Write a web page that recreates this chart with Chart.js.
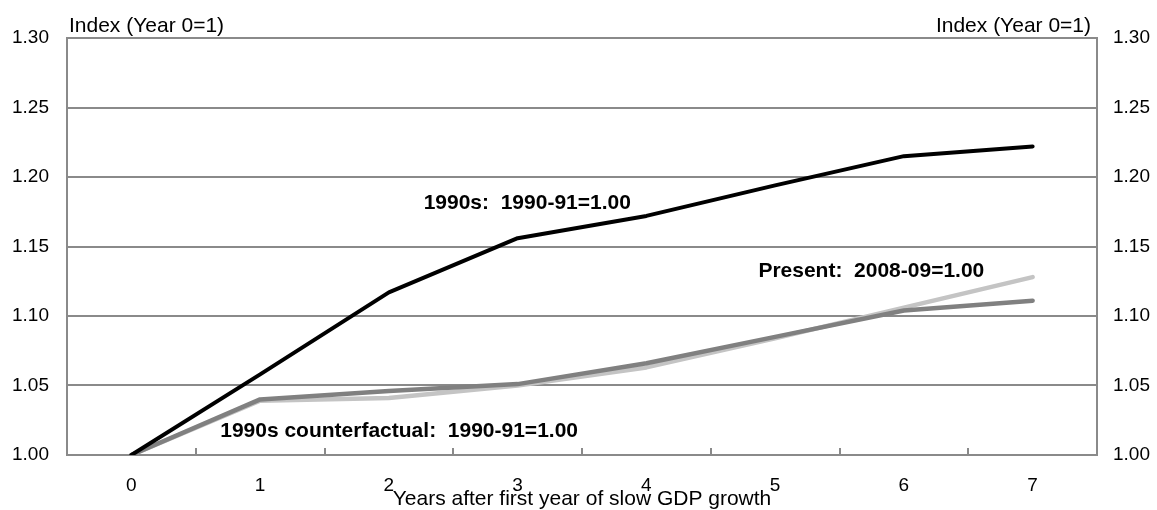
<!DOCTYPE html>
<html>
<head>
<meta charset="utf-8">
<script src="https://cdn.jsdelivr.net/npm/chart.js@4.4.1/dist/chart.umd.min.js"></script>
<style>
  html, body { margin: 0; padding: 0; background: #fff; }
  #wrap { width: 1157px; height: 510px; position: relative; }
</style>
</head>
<body>
<div id="wrap"><canvas id="chart" width="1157" height="510"></canvas></div>
<script>
// years after first year of slow GDP growth
const years = ['0', '1', '2', '3', '4', '5', '6', '7'];

// index, year 0 = 1
const nineties = [1.000, 1.058, 1.117, 1.156, 1.172, 1.194, 1.215, 1.222];
const counterfactual = [1.000, 1.040, 1.046, 1.051, 1.066, 1.085, 1.104, 1.111];
const present = [1.000, 1.039, 1.041, 1.050, 1.063, 1.084, 1.106, 1.128];

const yTicks = [1.00, 1.05, 1.10, 1.15, 1.20, 1.25, 1.30];

// text labels placed in data space: [text, x (category index), y (index value)]
const seriesLabels = [
    ['1990s:  1990-91=1.00', 2.27, 1.181],
    ['Present:  2008-09=1.00', 4.87, 1.132],
    ['1990s counterfactual:  1990-91=1.00', 0.69, 1.017]
];

const axisColor = '#8a8a8a';
const fontFamily = '"Liberation Sans", Arial, sans-serif';

Chart.defaults.font.family = fontFamily;
Chart.defaults.font.size = 19;
Chart.defaults.color = '#000';

const labelPlugin = {
    id: 'labelPlugin',
    afterDraw(chart) {
        const ctx = chart.ctx;
        const area = chart.chartArea;
        const x = chart.scales.x;
        const y = chart.scales.y;
        ctx.save();
        ctx.fillStyle = '#000';
        ctx.font = '21px ' + fontFamily;
        ctx.textBaseline = 'alphabetic';
        ctx.textAlign = 'left';
        ctx.fillText('Index (Year 0=1)', area.left + 2, area.top - 6);
        ctx.textAlign = 'right';
        ctx.fillText('Index (Year 0=1)', area.right - 6, area.top - 6);

        ctx.font = 'bold 21px ' + fontFamily;
        ctx.textAlign = 'left';
        ctx.textBaseline = 'middle';
        seriesLabels.forEach(l => {
            ctx.fillText(l[0], x.getPixelForValue(l[1]), y.getPixelForValue(l[2]));
        });
        ctx.restore();
    }
};

function fixWidth(w) {
    return function(scale) { scale.width = w; };
}

const ctx = document.getElementById('chart').getContext('2d');
const chart = new Chart(ctx, {
    type: 'line',
    data: {
        labels: years,
        datasets: [
            {
                label: '1990s',
                data: nineties,
                borderColor: '#000',
                borderWidth: 4
            },
            {
                label: '1990s counterfactual',
                data: counterfactual,
                borderColor: '#808080',
                borderWidth: 4.5
            },
            {
                label: 'Present',
                data: present,
                borderColor: '#c4c4c4',
                borderWidth: 4.5
            }
        ]
    },
    options: {
        responsive: false,
        animation: false,
        devicePixelRatio: 1,
        layout: { padding: { top: 38, left: 0, right: 0, bottom: 0 } },
        elements: {
            point: { radius: 0 },
            line: { tension: 0, borderCapStyle: 'round', borderJoinStyle: 'round' }
        },
        plugins: {
            legend: { display: false },
            tooltip: { enabled: false }
        },
        scales: {
            x: {
                type: 'category',
                offset: true,
                grid: {
                    offset: true,
                    drawOnChartArea: false,
                    color: axisColor,
                    lineWidth: 2,
                    tickLength: -7
                },
                border: { color: axisColor, width: 2 },
                ticks: { padding: 26, maxRotation: 0 },
                title: {
                    display: true,
                    text: 'Years after first year of slow GDP growth',
                    font: { size: 21 },
                    padding: { top: 0, bottom: -2 }
                },
                afterFit(scale) { scale.height = 55; }
            },
            y: {
                position: 'left',
                min: 1,
                max: 1.3,
                afterBuildTicks(scale) { scale.ticks = yTicks.map(v => ({ value: v })); },
                ticks: {
                    padding: 18,
                    callback: v => v.toFixed(2)
                },
                grid: { color: axisColor, lineWidth: 2, drawTicks: false },
                border: { color: axisColor, width: 2 },
                afterFit: fixWidth(67)
            },
            y2: {
                position: 'right',
                min: 1,
                max: 1.3,
                afterBuildTicks(scale) { scale.ticks = yTicks.map(v => ({ value: v })); },
                ticks: {
                    padding: 16,
                    callback: v => v.toFixed(2)
                },
                grid: { drawOnChartArea: false, drawTicks: false },
                border: { color: axisColor, width: 2 },
                afterFit: fixWidth(60)
            }
        }
    },
    plugins: [labelPlugin]
});
</script>
</body>
</html>
